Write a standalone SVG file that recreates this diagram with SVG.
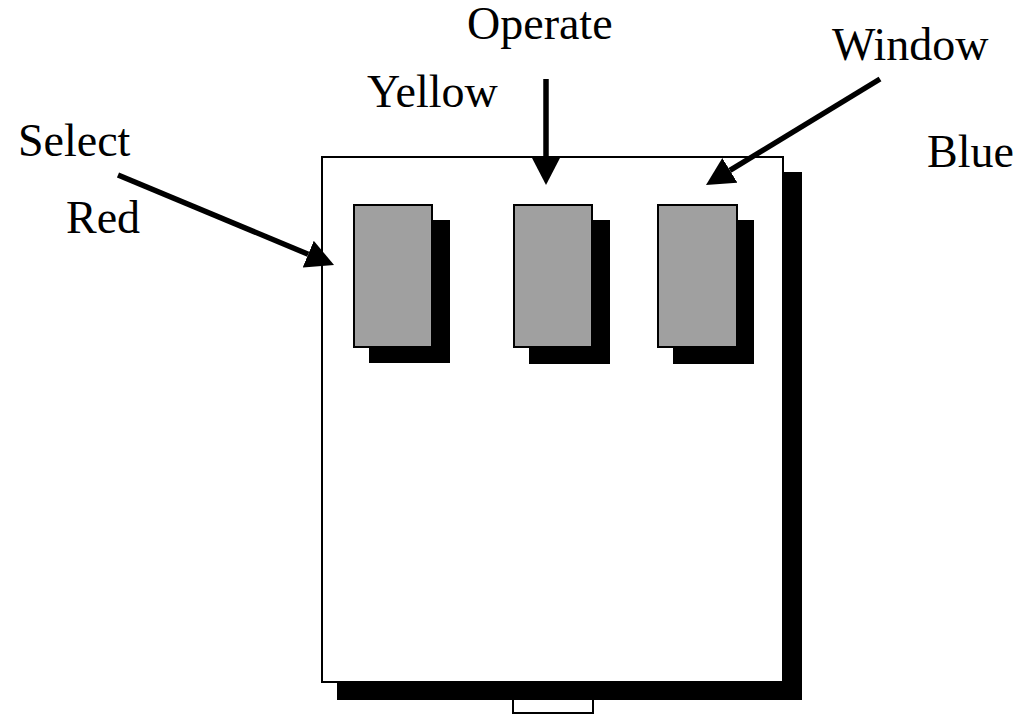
<svg xmlns="http://www.w3.org/2000/svg" width="1026" height="715" viewBox="0 0 1026 715">
  <style>
    .lbl { font-family: "Liberation Serif", "Times New Roman", serif; font-size: 46px; fill: #000; }
    .shadow { fill: #000; }
    .panel { fill: #fff; stroke: #000; stroke-width: 2; }
    .btn { fill: #a0a0a0; stroke: #000; stroke-width: 2; }
    .arrow { stroke: #000; stroke-width: 5.5; fill: none; marker-end: url(#head); }
  </style>
  <defs>
    <marker id="head" markerUnits="userSpaceOnUse" markerWidth="30" markerHeight="30" viewBox="0 -15 30 30" refX="0" refY="0" orient="auto">
      <path d="M0,-14.5 L28,0 L0,14.5 z" fill="#000"/>
    </marker>
  </defs>
  <rect width="1026" height="715" fill="#fff"/>
  <g id="device">
    <rect x="513" y="694" width="80" height="19" class="panel"/>
    <rect x="337" y="172" width="465" height="528" class="shadow"/>
    <rect x="322" y="157" width="461" height="525" class="panel"/>
  </g>
  <g id="button-red">
    <rect x="369" y="220" width="81" height="143" class="shadow"/>
    <rect x="354" y="205" width="78" height="142" class="btn"/>
  </g>
  <g id="button-yellow">
    <rect x="529" y="220" width="81" height="144" class="shadow"/>
    <rect x="514" y="205" width="78" height="142" class="btn"/>
  </g>
  <g id="button-blue">
    <rect x="673" y="220" width="81" height="144" class="shadow"/>
    <rect x="658" y="205" width="79" height="142" class="btn"/>
  </g>
  <g id="labels">
    <text class="lbl" x="18" y="156">Select</text>
    <text class="lbl" x="66" y="233">Red</text>
    <text class="lbl" x="467" y="39">Operate</text>
    <text class="lbl" x="367" y="107">Yellow</text>
    <text class="lbl" x="832" y="60">Window</text>
    <text class="lbl" x="927" y="167">Blue</text>
  </g>
  <g id="connectors">
    <line class="arrow" x1="118" y1="175" x2="308.2" y2="254.2"/>
    <line class="arrow" x1="546" y1="79" x2="546" y2="157"/>
    <line class="arrow" x1="880" y1="79" x2="729.9" y2="170.4"/>
  </g>
</svg>
